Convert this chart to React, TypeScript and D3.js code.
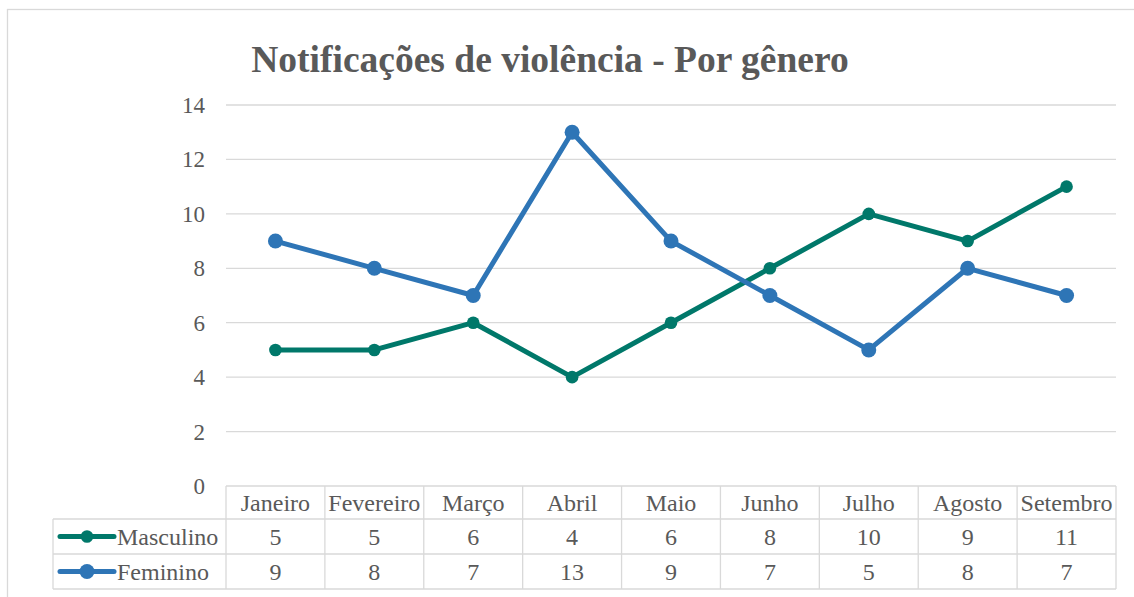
import React from "react";
import * as d3 from "d3";

const months = ["Janeiro", "Fevereiro", "Março", "Abril", "Maio", "Junho", "Julho", "Agosto", "Setembro"];
const masculino = [5, 5, 6, 4, 6, 8, 10, 9, 11];
const feminino = [9, 8, 7, 13, 9, 7, 5, 8, 7];
const yTicks = [0, 2, 4, 6, 8, 10, 12, 14];
const seriesNames = ["Masculino", "Feminino"];

const W = 1134;
const H = 597;
const plotLeft = 226;
const plotRight = 1116;
const plotTop = 105;
const plotBottom = 486;
const legendLeft = 53;
const rowBounds = [486, 519, 554, 589];

const colors = ["#00786A", "#2E75B6"];
const radii = [6.3, 7.5];
const font = "'Liberation Serif', 'Times New Roman', serif";
const textColor = "#595959";
const gridColor = "#D9D9D9";
const labelSize = 24;

export default function App() {
  const x = d3.scaleBand<string>().domain(months).range([plotLeft, plotRight]);
  const y = d3.scaleLinear().domain([0, 14]).range([plotBottom, plotTop]);
  const cx = (m: string) => (x(m) as number) + x.bandwidth() / 2;
  const data = [masculino, feminino];
  const line = d3
    .line<number>()
    .x((_, i) => cx(months[i]))
    .y((d) => y(d));

  return (
    <svg width={W} height={H} style={{ position: "absolute", left: 0, top: 0, display: "block" }}>
      <rect x={0} y={0} width={W} height={H} fill="#fff" />
      <rect x={7.5} y={9.5} width={W + 10} height={H + 10} fill="#fff" stroke={gridColor} strokeWidth={1.3} />
      <text
        x={550}
        y={72}
        textAnchor="middle"
        fontFamily={font}
        fontWeight="bold"
        fontSize={37.5}
        fill={textColor}
      >
        Notificações de violência - Por gênero
      </text>
      {yTicks.map((t) => (
        <g key={t}>
          {t > 0 && (
            <line x1={plotLeft} x2={plotRight} y1={y(t)} y2={y(t)} stroke={gridColor} strokeWidth={1.3} />
          )}
          <text
            x={205}
            y={y(t)}
            dy="0.35em"
            textAnchor="end"
            fontFamily={font}
            fontSize={labelSize - 1}
            fill={textColor}
          >
            {t}
          </text>
        </g>
      ))}
      {/* data table */}
      <g stroke={gridColor} strokeWidth={1.3} fill="none">
        <line x1={plotLeft} x2={plotRight} y1={rowBounds[0]} y2={rowBounds[0]} />
        {rowBounds.slice(1).map((r) => (
          <line key={r} x1={legendLeft} x2={plotRight} y1={r} y2={r} />
        ))}
        <line x1={legendLeft} x2={legendLeft} y1={rowBounds[1]} y2={rowBounds[3]} />
        {months.map((m) => (
          <line key={m} x1={x(m) as number} x2={x(m) as number} y1={rowBounds[0]} y2={rowBounds[3]} />
        ))}
        <line x1={plotRight} x2={plotRight} y1={rowBounds[0]} y2={rowBounds[3]} />
      </g>
      {months.map((m, i) => (
        <g key={m} fontFamily={font} fontSize={labelSize} fill={textColor} textAnchor="middle">
          <text x={cx(m)} y={(rowBounds[0] + rowBounds[1]) / 2} dy="0.35em">
            {m}
          </text>
          {data.map((s, k) => (
            <text key={k} x={cx(m)} y={(rowBounds[k + 1] + rowBounds[k + 2]) / 2} dy="0.35em">
              {s[i]}
            </text>
          ))}
        </g>
      ))}
      {seriesNames.map((name, k) => {
        const yy = (rowBounds[k + 1] + rowBounds[k + 2]) / 2;
        return (
          <g key={name}>
            <line x1={60} x2={114} y1={yy} y2={yy} stroke={colors[k]} strokeWidth={5} strokeLinecap="round" />
            <circle cx={87} cy={yy} r={radii[k]} fill={colors[k]} />
            <text x={117} y={yy} dy="0.35em" fontFamily={font} fontSize={labelSize} fill={textColor}>
              {name}
            </text>
          </g>
        );
      })}
      {data.map((s, k) => (
        <g key={k}>
          <path d={line(s) || ""} fill="none" stroke={colors[k]} strokeWidth={5} strokeLinejoin="round" strokeLinecap="round" />
          {s.map((v, i) => (
            <circle key={i} cx={cx(months[i])} cy={y(v)} r={radii[k]} fill={colors[k]} />
          ))}
        </g>
      ))}
    </svg>
  );
}
